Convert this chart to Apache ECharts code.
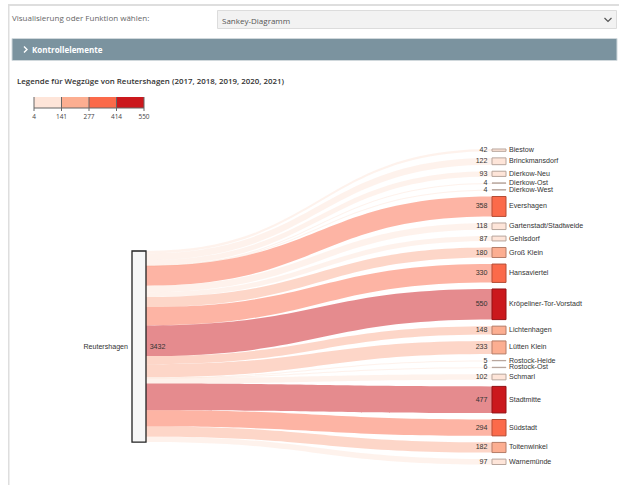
<!DOCTYPE html>
<html>
<head>
<meta charset="utf-8">
<script src="https://cdn.jsdelivr.net/npm/echarts@6/dist/echarts.min.js"></script>
<style>
html,body{margin:0;padding:0;background:#fff;}
#chart{width:619px;height:485px;}
</style>
</head>
<body>
<div id="chart"></div>
<script>
// ---- data ----
const sourceName = 'Reutershagen';
const targets = ['Biestow','Brinckmansdorf','Dierkow-Neu','Dierkow-Ost','Dierkow-West','Evershagen',
  'Gartenstadt/Stadtweide','Gehlsdorf','Groß Klein','Hansaviertel','Kröpeliner-Tor-Vorstadt',
  'Lichtenhagen','Lütten Klein','Rostock-Heide','Rostock-Ost','Schmarl','Stadtmitte','Südstadt',
  'Toitenwinkel','Warnemünde'];
const values = [42,122,93,4,4,358,118,87,180,330,550,148,233,5,6,102,477,294,182,97];
const legendBreaks = [4,141,277,414,550];
const legendColors = ['#fee5d9','#fcae91','#fb6a4a','#cb181d'];
const selectLabel = 'Visualisierung oder Funktion wählen:';
const selectValue = 'Sankey-Diagramm';
const panelTitle = 'Kontrollelemente';
const legendTitle = 'Legende für Wegzüge von Reutershagen (2017, 2018, 2019, 2020, 2021)';

// ---- helpers ----
function binColor(v){
  for (let i = 0; i < legendColors.length; i++) {
    if (v < legendBreaks[i+1]) return legendColors[i];
  }
  return legendColors[legendColors.length-1];
}
function darker(hex, k){
  const n = parseInt(hex.slice(1),16);
  const r = Math.round(((n>>16)&255)*k), g = Math.round(((n>>8)&255)*k), b = Math.round((n&255)*k);
  return 'rgb('+r+','+g+','+b+')';
}
const total = values.reduce((a,b)=>a+b,0);
const LABEL_FONT = 'Liberation Sans, Arial, sans-serif';
const UI_FONT = 'Open Sans, sans-serif';

// ---- sankey geometry ----
const sk = {left:132, top:149, right:113, bottom:20.5};
const skHeight = 485 - sk.top - sk.bottom;
const sourceTop = 251;

function buildNodes(mode){
  const nodes = [{
    name: sourceName,
    value: total,
    localY: (sourceTop - sk.top) / skHeight,
    itemStyle: mode === 'main' ? {color:'#f7f7f7', borderColor:'#222', borderWidth:1.3} : {color:'rgba(0,0,0,0)', borderWidth:0},
    label: mode === 'main'
      ? {show:true, position:'right', distance:3, formatter: p => String(p.value)}
      : {show:true, position:'left', distance:4, formatter: p => p.name}
  }];
  targets.forEach((t,i)=>{
    const c = binColor(values[i]);
    nodes.push({
      name: t,
      value: values[i],
      itemStyle: mode === 'main' ? {color:c, borderColor:darker(c,0.72), borderWidth:1} : {color:'rgba(0,0,0,0)', borderWidth:0},
      label: mode === 'main'
        ? {show:true, position:'left', distance:4, formatter: p => String(p.value)}
        : {show:true, position:'right', distance:3, formatter: p => p.name}
    });
  });
  return nodes;
}
function buildLinks(mode){
  return targets.map((t,i)=>({
    source: sourceName, target: t, value: values[i],
    lineStyle: mode === 'main' ? {color: binColor(values[i]), opacity:0.5} : {opacity:0}
  }));
}
function sankeySeries(mode){
  return {
    type:'sankey',
    left: sk.left, top: sk.top, right: sk.right, bottom: sk.bottom,
    nodeWidth:14, nodeGap:6.55, layoutIterations:0, draggable:false,
    emphasis:{disabled:true}, silent:true,
    data: buildNodes(mode),
    links: buildLinks(mode),
    lineStyle:{curveness:0.5},
    label:{fontSize:7.1, color:'#333', fontFamily:LABEL_FONT},
    z: mode === 'main' ? 2 : 3
  };
}

// ---- chrome & legend graphics ----
const g = [];
g.push({type:'rect', shape:{x:8,y:4,width:611,height:2}, style:{fill:'#dedede'}, silent:true});
g.push({type:'rect', shape:{x:8,y:4,width:1.5,height:481}, style:{fill:'#dedede'}, silent:true});
g.push({type:'text', x:12, y:17, style:{text:selectLabel, fill:'#666', font:'8px '+UI_FONT, textVerticalAlign:'middle'}});
g.push({type:'rect', shape:{x:217.5,y:10.5,width:399,height:18}, style:{fill:'#f2f2f2', stroke:'#dcdcdc', lineWidth:1}});
g.push({type:'text', x:222, y:20, style:{text:selectValue, fill:'#555', font:'8px '+UI_FONT, textVerticalAlign:'middle'}});
g.push({type:'polyline', shape:{points:[[604.5,18],[608,21.5],[611.5,18]]}, style:{stroke:'#555', lineWidth:1.2, fill:null}});
g.push({type:'rect', shape:{x:12,y:38.5,width:605,height:22}, style:{fill:'#7b939f', stroke:'#d0d8dc', lineWidth:1}});
g.push({type:'polyline', shape:{points:[[24,46.5],[27,49.5],[24,52.5]]}, style:{stroke:'#fff', lineWidth:1.4, fill:null}});
g.push({type:'text', x:32, y:49.5, style:{text:panelTitle, fill:'#fff', font:'bold 8px '+UI_FONT, textVerticalAlign:'middle'}});
g.push({type:'text', x:17, y:81, style:{text:legendTitle, fill:'#333', font:'600 7.9px '+UI_FONT, textVerticalAlign:'middle'}});

const lgX = 34, lgY = 97, lgW = 110, lgH = 11;
const segW = lgW / legendColors.length;
legendColors.forEach((c,i)=>{
  g.push({type:'rect', shape:{x:lgX+i*segW, y:lgY, width:segW, height:lgH}, style:{fill:c}});
});
g.push({type:'line', shape:{x1:lgX,y1:lgY+lgH,x2:lgX+lgW,y2:lgY+lgH}, style:{stroke:'#666', lineWidth:1}});
legendBreaks.forEach((b,i)=>{
  const x = lgX + i*segW;
  g.push({type:'line', shape:{x1:x,y1:lgY,x2:x,y2:lgY+lgH+3}, style:{stroke:'#666', lineWidth:1}});
  g.push({type:'text', x:x, y:lgY+lgH+8, style:{text:String(b), fill:'#444', font:'6.5px '+UI_FONT, textAlign:'center', textVerticalAlign:'middle'}});
});

const chart = echarts.init(document.getElementById('chart'), null, {renderer:'svg'});
chart.setOption({
  animation:false,
  backgroundColor:'#fff',
  graphic: g,
  series:[sankeySeries('main'), sankeySeries('names')]
});
</script>
</body>
</html>
